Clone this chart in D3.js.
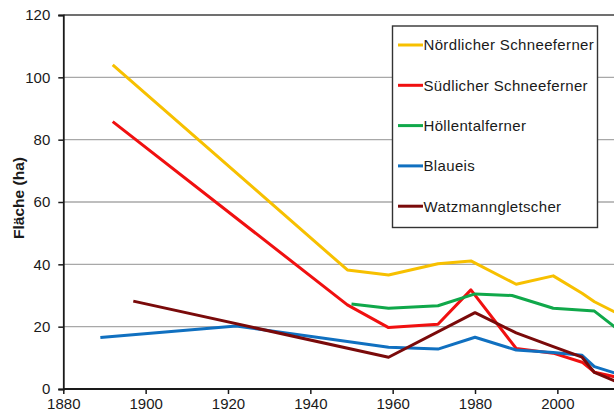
<!DOCTYPE html>
<html><head><meta charset="utf-8">
<script src="https://cdn.jsdelivr.net/npm/d3@7"></script>
<style>
html,body{margin:0;padding:0;background:#fff;overflow:hidden;}
svg{display:block;font-family:"Liberation Sans",Arial,sans-serif;}
</style></head>
<body>
<svg id="chart" width="614" height="416"></svg>
<script>
const seriesNames = ["Nördlicher Schneeferner","Südlicher Schneeferner","Höllentalferner","Blaueis","Watzmanngletscher"];
const seriesColors = ["#F7C000","#F01010","#10A84A","#1070C0","#7A0A0A"];
const noerdlicherYears = [1892,1949,1959,1971,1979,1990,1999,2006,2009,2015];
const noerdlicherValues = [104,38.2,36.6,40.2,41.1,33.6,36.3,30.7,28,24];
const suedlicherYears = [1892,1949,1959,1971,1979,1990,1999,2006,2009,2015];
const suedlicherValues = [85.8,27,19.7,20.8,31.8,13,11.5,8.6,5.4,3.6];
const hoellentalYears = [1950,1959,1971,1980,1989,1999,2009,2015];
const hoellentalValues = [27.3,25.9,26.7,30.5,30,25.9,25,18.8];
const blaueisYears = [1889,1922,1959,1971,1980,1990,1999,2006,2009,2015];
const blaueisValues = [16.5,20.2,13.4,12.8,16.6,12.5,11.7,10.8,7.2,4.7];
const watzmannYears = [1897,1959,1980,1990,1999,2006,2009,2015];
const watzmannValues = [28.2,10.2,24.5,18,13.6,10.2,5.3,2];
const xTicks = [1880,1900,1920,1940,1960,1980,2000];
const yTicks = [0,20,40,60,80,100,120];
const yLabel = "Fläche (ha)";

const allYears = [noerdlicherYears,suedlicherYears,hoellentalYears,blaueisYears,watzmannYears];
const allValues = [noerdlicherValues,suedlicherValues,hoellentalValues,blaueisValues,watzmannValues];
const series = seriesNames.map((n,i)=>({name:n,color:seriesColors[i],pts:allYears[i].map((y,j)=>[y,allValues[i][j]])}));

const svg = d3.select("#chart");
const x = d3.scaleLinear().domain([1880,2020]).range([63.3,639.7]);
const y = d3.scaleLinear().domain([0,120]).range([389,15]);

// gridlines
svg.append("g").selectAll("line").data(yTicks.filter(t=>t>0 && t<120)).join("line")
  .attr("x1",x(1880)).attr("x2",x(2020)).attr("y1",d=>y(d)).attr("y2",d=>y(d))
  .attr("stroke","#A8A8A8").attr("stroke-width",1.3);
// top frame
svg.append("line").attr("x1",x(1880)).attr("x2",x(2020)).attr("y1",y(120)).attr("y2",y(120))
  .attr("stroke","#404040").attr("stroke-width",1.5);

// lines
const line = d3.line().x(d=>x(d[0])).y(d=>y(d[1]));
svg.append("g").selectAll("path").data(series).join("path")
  .attr("d",d=>line(d.pts)).attr("fill","none").attr("stroke",d=>d.color)
  .attr("stroke-width",3).attr("stroke-linejoin","round");

// axes
const xAxis = d3.axisBottom(x).tickValues(xTicks).tickFormat(d3.format("d")).tickSize(5).tickPadding(4);
const gx = svg.append("g").attr("transform",`translate(0,${y(0)})`).call(xAxis);
const yAxis = d3.axisLeft(y).tickValues(yTicks).tickSize(5).tickPadding(8);
const gy = svg.append("g").attr("transform",`translate(${x(1880)},0)`).call(yAxis);
[gx,gy].forEach(g=>{
  g.select(".domain").attr("stroke","#1a1a1a").attr("stroke-width",1.8);
  g.selectAll(".tick line").attr("stroke","#1a1a1a").attr("stroke-width",1.5);
  g.selectAll(".tick text").attr("fill","#1a1a1a").style("font-size","15px").style("font-family","'Liberation Sans',Arial,sans-serif");
});
gx.select(".domain").attr("d",`M${x(1880)},0H${x(2020)}`);

// y label
svg.append("text").attr("transform",`translate(23.5,198) rotate(-90)`)
  .attr("text-anchor","middle").style("font-size","15.5px").style("font-weight","bold")
  .attr("fill","#1a1a1a").text(yLabel);

// legend
const lg = svg.append("g");
lg.append("rect").attr("x",392.5).attr("y",26).attr("width",205).attr("height",201.5)
  .attr("fill","#fff").attr("stroke","#333").attr("stroke-width",1.4);
const items = lg.selectAll("g.item").data(series).join("g").attr("class","item")
  .attr("transform",(d,i)=>`translate(398,${45+i*40.3})`);
items.append("line").attr("x1",0).attr("x2",25).attr("y1",0).attr("y2",0)
  .attr("stroke",d=>d.color).attr("stroke-width",3);
items.append("text").attr("x",25.5).attr("y",5.3).style("font-size","15px")
  .style("letter-spacing","0.35px").attr("fill","#1a1a1a").text(d=>d.name);
</script>
</body></html>
